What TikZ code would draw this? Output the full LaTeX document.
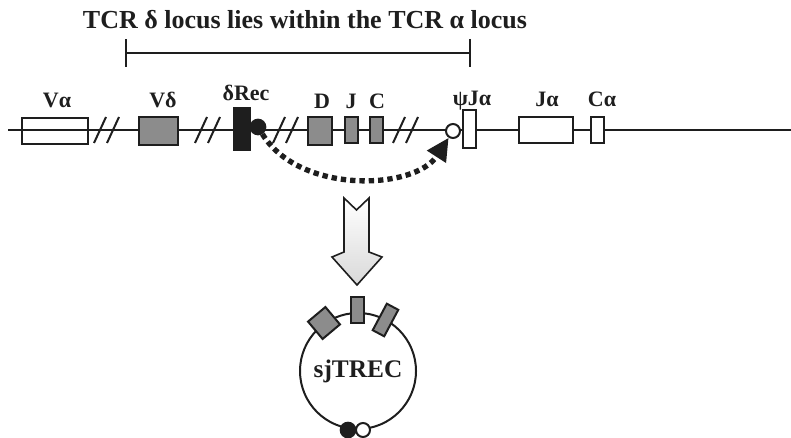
\documentclass[tikz,border=0pt]{standalone}
\usepackage{fontspec}
\setmainfont{Liberation Serif}
\usetikzlibrary{arrows.meta,positioning,calc}
\definecolor{locusGray}{HTML}{8C8C8C}
\definecolor{locusInk}{HTML}{1E1E1E}

\begin{document}
\begin{tikzpicture}[x=0.75pt,y=-0.75pt,line width=1.5pt,draw=locusInk,
    seg/.style={draw=locusInk,fill=white,inner sep=0pt},
    gseg/.style={draw=locusInk,fill=locusGray,inner sep=0pt},
    blk/.style={draw=locusInk,fill=locusInk,inner sep=0pt},
    dotb/.style={circle,draw=locusInk,fill=locusInk,minimum size=11pt,inner sep=0pt},
    doto/.style={circle,draw=locusInk,fill=white,minimum size=10.5pt,inner sep=0pt},
    lbl/.style={font=\fontsize{16.5}{18}\selectfont\bfseries,anchor=base,inner sep=0pt,text=locusInk},
    dotarc/.style={line width=4pt,dash pattern=on 4pt off 3pt,-{Triangle[length=17pt,width=16pt]}}]
    \useasboundingbox (0,0) rectangle (791,438);
    % title and bracket
    \node[font=\fontsize{19.5}{21}\selectfont\bfseries,anchor=base,inner sep=0pt,text=locusInk] (title) at (305,29) {TCR δ locus lies within the TCR α locus};
    \coordinate (brL) at (125,53);
    \coordinate (brR) at (471,53);
    \draw[{Bar[width=21pt]}-{Bar[width=21pt]}] (brL) -- (brR);
    % chromosome line
    \coordinate (chrL) at (8,130);
    \coordinate (chrR) at (791,130);
    \draw (chrL) -- (chrR);
    \foreach \x in {100,113,201,214,279,292,399,412}
      \draw (\x-6,143) -- (\x+6,117);
    % gene segments
    \node[draw=locusInk,inner sep=0pt,minimum width=49.5pt,minimum height=20pt] (va) at (55,131) {};
    \node[gseg,minimum width=29pt,minimum height=21pt] (vd) at (158.5,131) {};
    \node[blk,minimum width=12pt,minimum height=31.5pt] (rec) at (242,129) {};
    \node[dotb] (recdot) at (258,127) {};
    \node[gseg,minimum width=18pt,minimum height=21pt] (dd) at (320,131) {};
    \node[gseg,minimum width=9.75pt,minimum height=19.5pt] (jd) at (351.5,130) {};
    \node[gseg,minimum width=9.75pt,minimum height=19.5pt] (cd) at (376.5,130) {};
    \node[doto] (psidot) at (453,131) {};
    \node[seg,minimum width=9.75pt,minimum height=28.5pt] (psija) at (469.5,129) {};
    \node[seg,minimum width=40.5pt,minimum height=19.5pt] (ja) at (546,130) {};
    \node[seg,minimum width=9.75pt,minimum height=19.5pt] (ca) at (597.5,130) {};
    % labels
    \node[lbl] (lblVa) at (57,108) {Vα};
    \node[lbl] (lblVd) at (163,108) {Vδ};
    \node[lbl] (lblRec) at (246,101) {δRec};
    \node[lbl] (lblD) at (322,109) {D};
    \node[lbl] (lblJ) at (351,109) {J};
    \node[lbl] (lblC) at (377,109) {C};
    \node[lbl] (lblPsi) at (472,106) {ψJα};
    \node[lbl] (lblJa) at (547,107) {Jα};
    \node[lbl] (lblCa) at (602,107) {Cα};
    % recombination
    \draw[dotarc] (recdot) .. controls (300,195) and (415,190) .. (psidot);
    % excision arrow
    \draw[line width=1.2pt,top color=white,bottom color=gray!30]
      (344,198) -- (356.5,210) -- (369,198) -- (369,252) -- (382,257)
      -- (357,285) -- (332,257) -- (344,252) -- cycle;
    % circle
    \node[circle,draw=locusInk,minimum size=87pt,inner sep=0pt,font=\fontsize{19}{21}\selectfont\bfseries,text=locusInk] (trec) at (358,371) {sjTREC};
    \node[gseg,minimum size=17pt,rotate=40] (trecD) at (324,323) {};
    \node[gseg,minimum width=9.75pt,minimum height=20pt] (trecJ) at (357.5,310) {};
    \node[gseg,minimum width=9.75pt,minimum height=22.5pt,rotate=-28] (trecC) at (385.5,320) {};
    \node[dotb] (trecRec) at (348,430) {};
    \node[doto] (trecPsi) at (363,430) {};
  \end{tikzpicture}
\end{document}
